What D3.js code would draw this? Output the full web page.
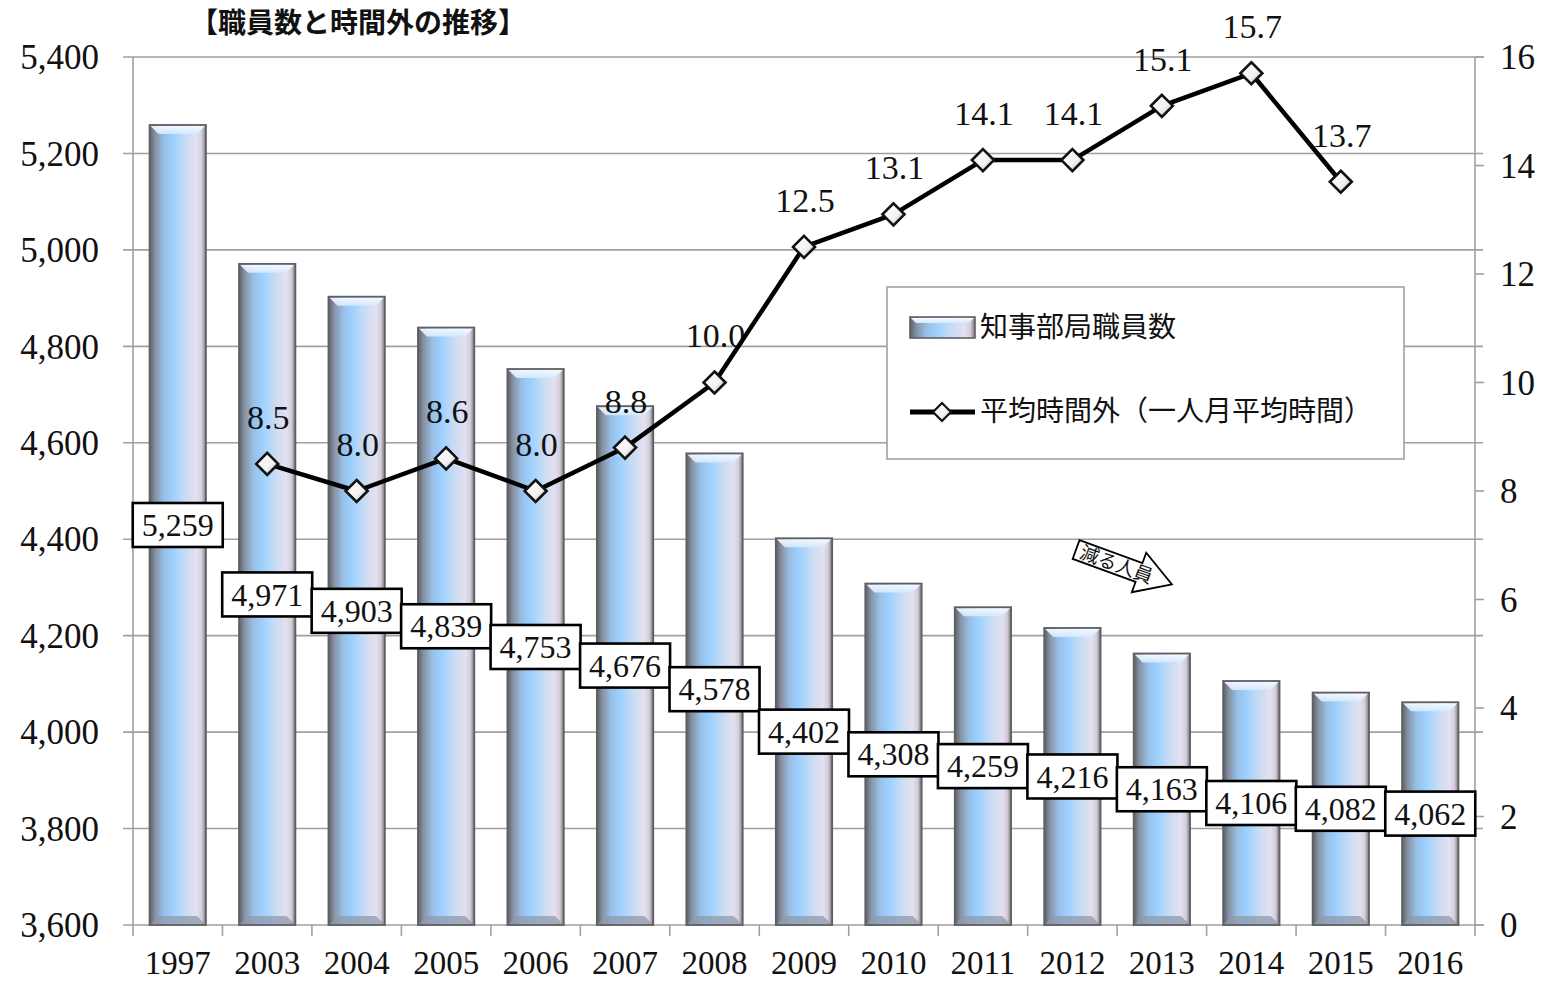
<!DOCTYPE html>
<html><head><meta charset="utf-8">
<script src="https://cdn.jsdelivr.net/npm/d3@7"></script>
<style>
html,body{margin:0;padding:0;background:#fff;overflow:hidden;}
svg{display:block;}
</style></head>
<body>
<svg id="chart" width="1542" height="983"></svg>
<script>
const years = ["1997","2003","2004","2005","2006","2007","2008","2009","2010","2011","2012","2013","2014","2015","2016"];
const staff = [5259,4971,4903,4839,4753,4676,4578,4402,4308,4259,4216,4163,4106,4082,4062];
const overtime = [null,8.5,8.0,8.6,8.0,8.8,10.0,12.5,13.1,14.1,14.1,15.1,15.7,13.7,null];
const leftTicks = [3600,3800,4000,4200,4400,4600,4800,5000,5200,5400];
const rightTicks = [0,2,4,6,8,10,12,14,16];
const titleText = "【職員数と時間外の推移】";
const legendLabels = ["知事部局職員数","平均時間外（一人月平均時間）"];
const annotationText = "減る人員";

const svg = d3.select("#chart");
const L = 133, R = 1475, T = 57, B = 925;
const serif = "'Liberation Serif','DejaVu Serif',serif";
const cjk = "'Noto Sans CJK JP','Noto Sans CJK SC',sans-serif";

const x = d3.scaleBand().domain(years).range([L, R]).paddingInner(0.37).paddingOuter(0.185);
const yL = d3.scaleLinear().domain([3600, 5400]).range([B, T]);
const yR = d3.scaleLinear().domain([0, 16]).range([B, T]);

// defs
const defs = svg.append("defs");
const g1 = defs.append("linearGradient").attr("id","barGrad").attr("x1","0").attr("x2","1").attr("y1","0").attr("y2","0");
[[0,"#5e6066"],[0.1,"#8792a3"],[0.25,"#97bfe6"],[0.42,"#9ed1ff"],[0.64,"#c8dcf3"],[0.84,"#e5e0f0"],[0.93,"#d2cdd9"],[1,"#75747a"]]
  .forEach(([o,c]) => g1.append("stop").attr("offset",o).attr("stop-color",c));
const g2 = defs.append("linearGradient").attr("id","bevelTop").attr("x1","0").attr("x2","0").attr("y1","0").attr("y2","1");
[[0,"#f8fbff"],[1,"#d3e9ff"]].forEach(([o,c]) => g2.append("stop").attr("offset",o).attr("stop-color",c));
const g3 = defs.append("linearGradient").attr("id","markGrad").attr("x1","0").attr("x2","1").attr("y1","0").attr("y2","1");
[[0,"#ffffff"],[0.6,"#f2f2f2"],[1,"#a0a0a0"]].forEach(([o,c]) => g3.append("stop").attr("offset",o).attr("stop-color",c));

// gridlines
svg.append("g").selectAll("line").data(leftTicks).join("line")
  .attr("x1", L - 10).attr("x2", R + 8)
  .attr("y1", d => yL(d)).attr("y2", d => yL(d))
  .attr("stroke", "#a0a0a0").attr("stroke-width", 1.6);

// axis lines
svg.append("line").attr("x1", L).attr("x2", L).attr("y1", T).attr("y2", B).attr("stroke","#a0a0a0").attr("stroke-width",1.6);
svg.append("line").attr("x1", R).attr("x2", R).attr("y1", T).attr("y2", B).attr("stroke","#a0a0a0").attr("stroke-width",1.6);
// right ticks
svg.append("g").selectAll("line").data(rightTicks).join("line")
  .attr("x1", R).attr("x2", R + 9).attr("y1", d => yR(d)).attr("y2", d => yR(d))
  .attr("stroke","#a0a0a0").attr("stroke-width",1.6);
// bottom category ticks
const bounds = d3.range(years.length + 1).map(i => L + i * x.step());
svg.append("g").selectAll("line").data(bounds).join("line")
  .attr("x1", d => d).attr("x2", d => d).attr("y1", B).attr("y2", B + 11)
  .attr("stroke","#a0a0a0").attr("stroke-width",1.6);

// axis labels
svg.append("g").selectAll("text").data(leftTicks).join("text")
  .attr("x", 99).attr("y", d => yL(d)).attr("dy", "0.35em")
  .attr("text-anchor","end").attr("font-family", serif).attr("font-size", 35)
  .attr("fill","#111").text(d => d3.format(",")(d));
svg.append("g").selectAll("text").data(rightTicks).join("text")
  .attr("x", 1500).attr("y", d => yR(d)).attr("dy", "0.35em")
  .attr("text-anchor","start").attr("font-family", serif).attr("font-size", 35)
  .attr("fill","#111").text(d => d);
svg.append("g").selectAll("text").data(years).join("text")
  .attr("x", d => x(d) + x.bandwidth()/2).attr("y", 974)
  .attr("text-anchor","middle").attr("font-family", serif).attr("font-size", 33)
  .attr("fill","#111").text(d => d);

// title
svg.append("text").attr("x", 190).attr("y", 33).attr("font-family", cjk).attr("font-weight", 700)
  .attr("font-size", 28).attr("fill","#111").text(titleText);

// bars
const bw = x.bandwidth();
const bev = 9;
const bars = svg.append("g").selectAll("g").data(years).join("g");
bars.append("rect")
  .attr("x", d => x(d)).attr("y", (d,i) => yL(staff[i]))
  .attr("width", bw).attr("height", (d,i) => B - yL(staff[i]))
  .attr("fill","url(#barGrad)");
bars.append("path")
  .attr("d", (d,i) => {
    const x0 = x(d), x1 = x(d) + bw, y0 = yL(staff[i]);
    return `M${x0+1},${y0+1}L${x1-1},${y0+1}L${x1-bev},${y0+bev}L${x0+bev},${y0+bev}Z`;
  })
  .attr("fill","url(#bevelTop)").attr("opacity",0.92);
bars.append("path")
  .attr("d", (d,i) => {
    const x0 = x(d), x1 = x(d) + bw, y1 = B;
    return `M${x0+1},${y1-1}L${x1-1},${y1-1}L${x1-bev},${y1-bev}L${x0+bev},${y1-bev}Z`;
  })
  .attr("fill","#8f9aab").attr("opacity",0.75);
bars.append("rect")
  .attr("x", d => x(d)).attr("y", (d,i) => yL(staff[i]))
  .attr("width", bw).attr("height", (d,i) => B - yL(staff[i]))
  .attr("fill","none").attr("stroke","#606064").attr("stroke-width",1.8);

// line labels (drawn beneath line)
const pts = years.map((d,i) => ({year:d, v:overtime[i]})).filter(p => p.v !== null);
svg.append("g").selectAll("text").data(pts).join("text")
  .attr("x", p => x(p.year) + bw/2 + 1).attr("y", p => yR(p.v) - 47).attr("dy","0.35em")
  .attr("text-anchor","middle").attr("font-family", serif).attr("font-size", 34)
  .attr("fill","#111").text(p => d3.format(".1f")(p.v));

// line
const line = d3.line().x(p => x(p.year) + bw/2).y(p => yR(p.v));
svg.append("path").datum(pts).attr("d", line).attr("fill","none")
  .attr("stroke","#000").attr("stroke-width",4.5).attr("stroke-linejoin","round");
const diamond = r => `M0,${-r}L${r},0L0,${r}L${-r},0Z`;
svg.append("g").selectAll("path").data(pts).join("path")
  .attr("transform", p => `translate(${x(p.year)+bw/2},${yR(p.v)})`)
  .attr("d", diamond(11)).attr("fill","url(#markGrad)").attr("stroke","#111").attr("stroke-width",2.6);

// value label boxes
const lbl = svg.append("g").selectAll("g").data(years).join("g")
  .attr("transform", (d,i) => `translate(${x(d)+bw/2},${(yL(staff[i]) + B)/2})`);
lbl.append("rect").attr("x",-45).attr("y",-22).attr("width",90).attr("height",44)
  .attr("fill","#fff").attr("stroke","#000").attr("stroke-width",2.6);
lbl.append("text").attr("y",0).attr("dy","0.35em").attr("text-anchor","middle")
  .attr("font-family", serif).attr("font-size", 32).attr("fill","#111")
  .text((d,i) => d3.format(",")(staff[i]));

// legend
const lg = svg.append("g");
lg.append("rect").attr("x",887).attr("y",287).attr("width",517).attr("height",172)
  .attr("fill","#fff").attr("stroke","#a0a0a0").attr("stroke-width",1.6);
lg.append("rect").attr("x",910).attr("y",317).attr("width",65).attr("height",21)
  .attr("fill","url(#barGrad)");
lg.append("path").attr("d","M911,318L974,318L969,323L916,323Z").attr("fill","url(#bevelTop)");
lg.append("rect").attr("x",910).attr("y",317).attr("width",65).attr("height",21)
  .attr("fill","none").attr("stroke","#606064").attr("stroke-width",1.6);
lg.append("text").attr("x",980).attr("y",327).attr("dy","0.35em").attr("font-family",cjk)
  .attr("font-size",28).attr("fill","#111").text(legendLabels[0]);
lg.append("line").attr("x1",910).attr("x2",975).attr("y1",412).attr("y2",412)
  .attr("stroke","#000").attr("stroke-width",5);
lg.append("path").attr("transform","translate(942,412)").attr("d",diamond(9))
  .attr("fill","url(#markGrad)").attr("stroke","#111").attr("stroke-width",2.2);
lg.append("text").attr("x",980).attr("y",411).attr("dy","0.35em").attr("font-family",cjk)
  .attr("font-size",28).attr("fill","#111").text(legendLabels[1]);

// annotation arrow
const an = svg.append("g").attr("transform","translate(1124,567) rotate(20)");
an.append("path").attr("d","M-51,-10L16,-10L16,-21L51,0L16,21L16,10L-51,10Z")
  .attr("fill","#fff").attr("stroke","#000").attr("stroke-width",1.8);
an.append("text").attr("x",-8).attr("y",0).attr("dy","0.36em").attr("text-anchor","middle")
  .attr("font-family",cjk).attr("font-size",19).attr("fill","#111").text(annotationText);
</script>
</body></html>
